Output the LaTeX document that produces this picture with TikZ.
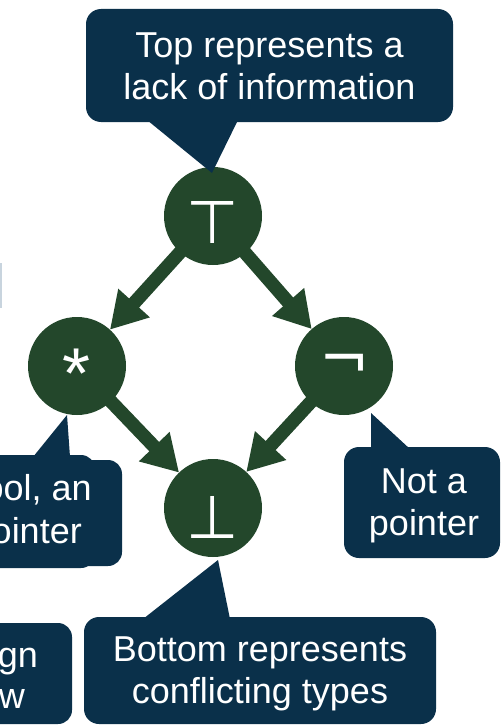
\documentclass[tikz,border=0pt]{standalone}
\usepackage{fontspec}
\setmainfont{Liberation Sans}
\newfontfamily\symfont{DejaVu Sans}
\usetikzlibrary{arrows.meta}
\definecolor{navy}{RGB}{10,48,74}
\definecolor{lgreen}{RGB}{35,71,43}
\definecolor{faint}{RGB}{200,212,222}
\tikzset{
  latnode/.style={circle,fill=lgreen,minimum size=98pt,inner sep=0pt,outer sep=0pt},
  symb/.style={text=white,font=\symfont\fontsize{60}{60}\selectfont,inner sep=0pt,anchor=base},
  callbox/.style={fill=navy,rounded corners=15pt,inner sep=0pt},
  calllines/.style={text=white,inner sep=0pt,align=center,font=\fontsize{36}{42}\selectfont},
  calltext/.style={text=white,inner sep=0pt,font=\fontsize{36}{42}\selectfont,anchor=base east},
  arr/.style={draw=lgreen,line width=13.5pt,shorten <=-6pt,-{Triangle[length=36pt,width=40pt]}}
}
\begin{document}
\begin{tikzpicture}[x=1pt,y=-1pt]
\clip (0,0) rectangle (503,725);
\fill[white] (0,0) rectangle (503,725);
% faint cut edge
\fill[faint] (0,263) rectangle (1.5,308);
% lattice nodes
\node[latnode] (top) at (213,216) {};
\node[latnode] (star) at (77,366) {};
\node[latnode] (neg) at (344,366) {};
\node[latnode] (bot) at (213,508) {};
\node[symb] (topsym) at (213,243) {⊤};
\node[symb] (botsym) at (213,538) {⊥};
\node[symb] (negsym) at (345,379) {¬};
\node[symb,font=\fontsize{72}{72}\selectfont] (starsym) at (77,398) {*};
% arrows
\draw[arr] (top) -- (star);
\draw[arr] (top) -- (neg);
\draw[arr] (star) -- (bot);
\draw[arr] (neg) -- (bot);
% top callout
\node[callbox,minimum width=367pt,minimum height=113pt] (topcall) at (269.5,65.5) {};
\node[calllines] (toptext) at (269.5,66) {Top represents a\\lack of information};
\coordinate (tA) at (147,120); \coordinate (tB) at (238,120); \coordinate (tT) at (212,173);
\fill[navy] (tA) -- (tB) -- (tT) -- cycle;
% right callout
\node[callbox,minimum width=156pt,minimum height=111pt] (negcall) at (422,502.5) {};
\node[calllines] (negtext) at (424,506) {Not a\\pointer};
\coordinate (rA) at (371,449); \coordinate (rB) at (410,449); \coordinate (rT) at (371,413);
\fill[navy] (rA) -- (rB) -- (rT) -- cycle;
% bottom callout
\node[callbox,minimum width=352pt,minimum height=107pt] (botcall) at (260,670.5) {};
\node[calllines] (bottext) at (260,674) {Bottom represents\\conflicting types};
\coordinate (bA) at (143,619); \coordinate (bB) at (230,619); \coordinate (bT) at (218,560);
\fill[navy] (bA) -- (bB) -- (bT) -- cycle;
% left middle callout (cut off)
\fill[navy,rounded corners=14pt] (-60,455) rectangle (95,568);
\fill[navy,rounded corners=14pt] (-60,460) rectangle (122,566);
\coordinate (lA) at (33,457); \coordinate (lB) at (70,457); \coordinate (lT) at (67,415);
\fill[navy] (lA) -- (lB) -- (lT) -- cycle;
\node[calltext] (lm1) at (92,500) {ool, an};
\node[calltext] (lm2) at (82,543) {pointer};
% left bottom callout (cut off)
\fill[navy,rounded corners=14pt] (-80,623) rectangle (72,724);
\node[calltext] (lb1) at (38,667) {gn};
\node[calltext] (lb2) at (25,708) {w};
\end{tikzpicture}
\end{document}
